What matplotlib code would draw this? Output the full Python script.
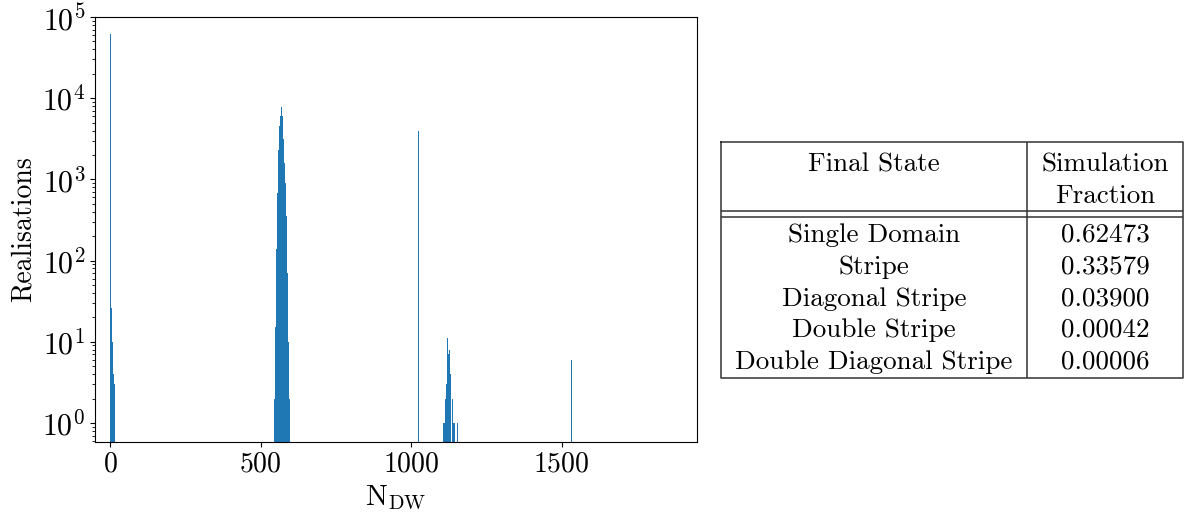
import numpy as np
import matplotlib
matplotlib.use("Agg")
import matplotlib.pyplot as plt

plt.rcParams["font.family"] = "cmr10"
plt.rcParams["mathtext.fontset"] = "cm"
plt.rcParams["axes.formatter.use_mathtext"] = True
plt.rcParams["font.size"] = 19.5

# histogram data (N_DW value, number of realisations)
single_x = [1, 4, 8, 11, 15]
single_n = [62430, 26, 10, 4, 3]
stripe_x = [546, 549, 552, 556, 559, 563, 566, 569, 573, 576, 580, 583, 586, 590, 593, 597]
stripe_n = [2, 15, 140, 680, 2300, 4600, 6000, 7810, 6000, 3100, 1600, 900, 350, 70, 10, 2]
diag_x = [1024]
diag_n = [3900]
double_x = [1106, 1109, 1113, 1116, 1121, 1124, 1128, 1131, 1136, 1140, 1145, 1155]
double_n = [1, 1, 2, 3, 11, 7, 8, 4, 2, 1, 1, 1]
ddiag_x = [1531]
ddiag_n = [6]

states = ["Single Domain", "Stripe", "Diagonal Stripe", "Double Stripe", "Double Diagonal Stripe"]
fractions = ["0.62473", "0.33579", "0.03900", "0.00042", "0.00006"]

x_all = single_x + stripe_x + diag_x + double_x + ddiag_x
n_all = single_n + stripe_n + diag_n + double_n + ddiag_n
edges = np.arange(0, 1600, 3.4)

fig = plt.figure(figsize=(11.88, 5.13), dpi=100)
ax = fig.add_axes([95 / 1188, 1 - 441.7 / 513, (697 - 95) / 1188, (441.7 - 17) / 513])
ax.hist(x_all, bins=edges, weights=n_all, log=True, color="C0")
ax.set_xlim(-51, 1950)
ax.set_ylim(0.588, 1e5)
ax.set_xticks([0, 500, 1000, 1500])
ax.tick_params(axis="y", labelsize=21.5)
ax.tick_params(axis="x", labelsize=20)
ax.set_xlabel(r"$\mathrm{N}_{\mathrm{DW}}$", fontsize=21)
ax.set_ylabel("Realisations", fontsize=20)

# table drawn by hand (double rule under header)
tx = fig.add_axes([721 / 1188, 1 - 378 / 513, (1183 - 721) / 1188, (378 - 142) / 513])
tx.set_xlim(721, 1183)
tx.set_ylim(378, 142)
tx.axis("off")
lw = 1.1
lc = "#333333"
tx.plot([721, 1183, 1183, 721, 721], [142, 142, 378, 378, 142], color=lc, lw=lw, clip_on=False)
tx.plot([1027, 1027], [142, 378], color=lc, lw=lw)
tx.plot([721, 1183], [211.5, 211.5], color=lc, lw=lw)
tx.plot([721, 1183], [217.5, 217.5], color=lc, lw=lw)
c1 = (721 + 1027) / 2
c2 = (1027 + 1183) / 2
tx.text(c1, 165, "Final State", ha="center", va="center")
tx.text(c2, 165, "Simulation", ha="center", va="center")
tx.text(c2, 196, "Fraction", ha="center", va="center")
row_y = [235, 267, 299, 330, 362]
for y, s, f in zip(row_y, states, fractions):
    tx.text(c1, y, s, ha="center", va="center")
    tx.text(c2, y, f, ha="center", va="center")

plt.savefig("out.png", dpi=100)
